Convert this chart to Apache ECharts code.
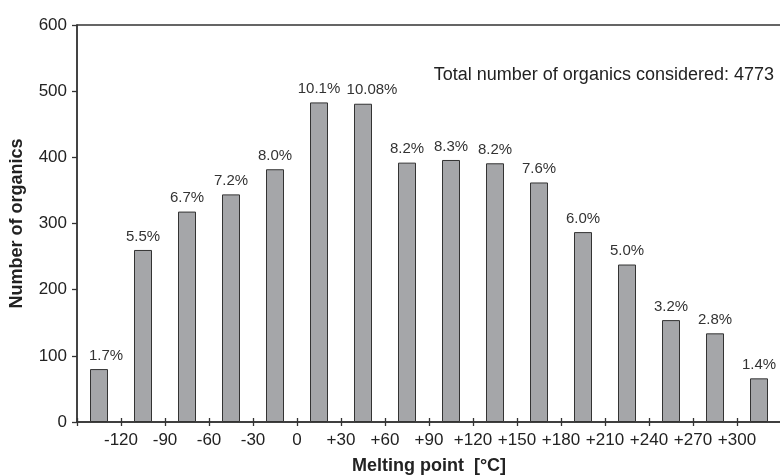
<!DOCTYPE html>
<html>
<head>
<meta charset="utf-8">
<script src="https://cdn.jsdelivr.net/npm/echarts@6/dist/echarts.min.js"></script>
<style>html,body{margin:0;padding:0;background:#fff;}#c{width:780px;height:475px;}</style>
</head>
<body>
<div id="c"></div>
<script>
// Bin lower edges (°C), each bin 30 °C wide
const binStarts = [-150, -120, -90, -60, -30, 0, 30, 60, 90, 120, 150, 180, 210, 240, 270, 300];
const binWidth = 30;
const counts = [80, 260, 318, 344, 382, 483, 481, 392, 396, 391, 362, 287, 238, 154, 134, 66];
const percentLabels = ['1.7%', '5.5%', '6.7%', '7.2%', '8.0%', '10.1%', '10.08%', '8.2%', '8.3%', '8.2%', '7.6%', '6.0%', '5.0%', '3.2%', '2.8%', '1.4%'];
const tickValues = [-120, -90, -60, -30, 0, 30, 60, 90, 120, 150, 180, 210, 240, 270, 300];
const tickLabels = ['-120', '-90', '-60', '-30', '0', '+30', '+60', '+90', '+120', '+150', '+180', '+210', '+240', '+270', '+300'];
const yTicks = [0, 100, 200, 300, 400, 500, 600];
const totalText = 'Total number of organics considered: 4773';

const FONT = "'Liberation Sans', Arial, sans-serif";
const xMin = binStarts[0];
const xMax = binStarts[binStarts.length - 1] + binWidth;
// horizontal nudges of a few percentage labels (style only)
const labelNudge = {0: 7, 6: 9};

const chart = echarts.init(document.getElementById('c'), null, {renderer: 'canvas'});
const barData = binStarts.map((s, i) => {
  const item = {value: [s + binWidth / 2, counts[i]]};
  if (labelNudge[i]) item.label = {offset: [labelNudge[i], 0]};
  return item;
});

chart.setOption({
  animation: false,
  backgroundColor: '#fff',
  grid: {left: 77, right: -1, top: 25, bottom: 53, containLabel: false, outerBoundsMode: 'none',
    show: true, borderColor: '#333', borderWidth: 1.3, backgroundColor: 'transparent'},
  xAxis: [{
    type: 'value', min: xMin, max: xMax, interval: binWidth, position: 'bottom',
    axisLine: {show: true, onZero: false, lineStyle: {color: '#333', width: 1.5}},
    axisTick: {show: true, inside: false, length: 4, lineStyle: {color: '#333', width: 1.3}},
    axisLabel: {
      show: true, margin: 10, fontSize: 17, color: '#222', fontFamily: FONT,
      formatter: function (v) { const i = tickValues.indexOf(v); return i >= 0 ? tickLabels[i] : ''; }
    },
    splitLine: {show: false},
    name: 'Melting point  [°C]', nameLocation: 'middle', nameGap: 35,
    nameTextStyle: {fontSize: 18, fontWeight: 'bold', color: '#222', fontFamily: FONT}
  }, {
    type: 'value', min: xMin, max: xMax, interval: binWidth, position: 'bottom',
    axisLine: {show: false, onZero: false},
    axisTick: {show: true, inside: true, length: 4, lineStyle: {color: '#333', width: 1.3}},
    axisLabel: {show: false},
    splitLine: {show: false}
  }],
  yAxis: {
    type: 'value', min: yTicks[0], max: yTicks[yTicks.length - 1], interval: yTicks[1] - yTicks[0],
    position: 'left',
    axisLine: {show: true, onZero: false, lineStyle: {color: '#333', width: 1.5}},
    axisTick: {show: true, inside: false, length: 5, lineStyle: {color: '#333', width: 1.3}},
    axisLabel: {margin: 10, fontSize: 17, color: '#222', fontFamily: FONT},
    splitLine: {show: false},
    name: 'Number of organics', nameLocation: 'middle', nameGap: 51, nameRotate: 90,
    nameTextStyle: {fontSize: 18, fontWeight: 'bold', color: '#222', fontFamily: FONT}
  },
  graphic: [{
    type: 'text', right: 6, top: 66,
    style: {text: totalText, font: '18px ' + FONT, fill: '#222'}
  }],
  series: [{
    type: 'bar', xAxisIndex: 0, yAxisIndex: 0, barWidth: 18,
    data: barData,
    itemStyle: {color: '#a5a6a9', borderColor: '#333', borderWidth: 1},
    label: {
      show: true, position: 'top', distance: 6, fontSize: 15, color: '#333', fontFamily: FONT,
      formatter: function (p) { return percentLabels[p.dataIndex]; }
    }
  }]
});
</script>
</body>
</html>
